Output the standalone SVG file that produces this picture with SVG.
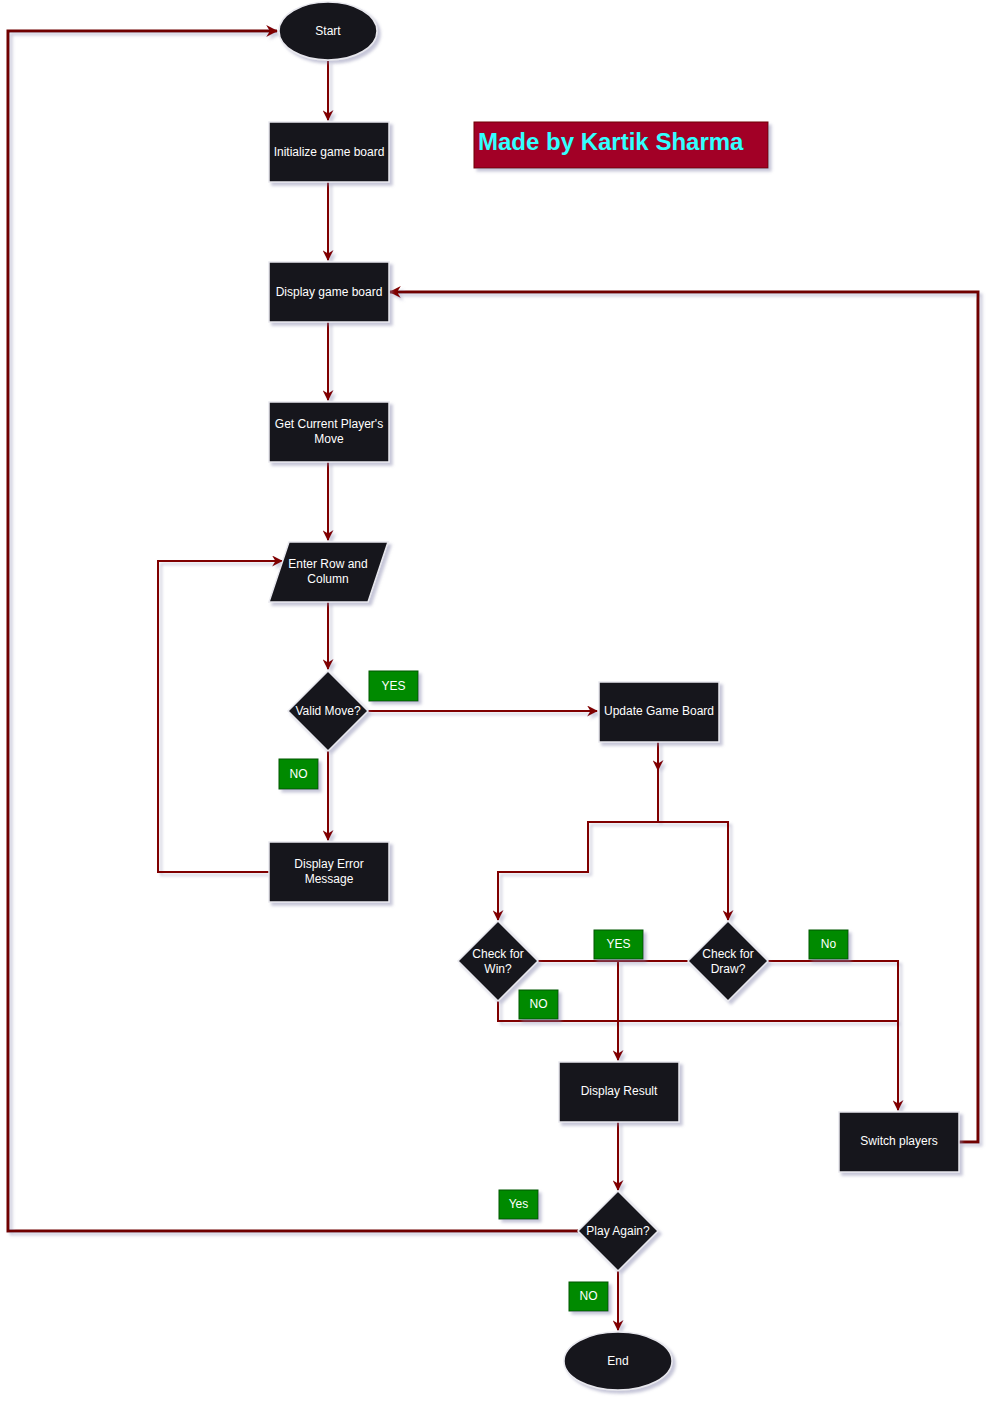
<svg xmlns="http://www.w3.org/2000/svg" width="999" height="1403" viewBox="0 0 999 1403">
<defs>
<filter id="sh" x="-20%" y="-20%" width="150%" height="150%">
<feGaussianBlur in="SourceAlpha" stdDeviation="1.5"/>
<feOffset dx="3" dy="3" result="b"/>
<feFlood flood-color="#8080a8" flood-opacity="0.45"/>
<feComposite in2="b" operator="in"/>
<feMerge><feMergeNode/><feMergeNode in="SourceGraphic"/></feMerge>
</filter>
<filter id="shc" filterUnits="userSpaceOnUse" x="0" y="0" width="999" height="1403">
<feGaussianBlur in="SourceAlpha" stdDeviation="1.5"/>
<feOffset dx="3" dy="3" result="b"/>
<feFlood flood-color="#8080a8" flood-opacity="0.4"/>
<feComposite in2="b" operator="in"/>
<feMerge><feMergeNode/><feMergeNode in="SourceGraphic"/></feMerge>
</filter>
<marker id="ar2" viewBox="0 0 10 10" refX="9" refY="5" markerWidth="5.5" markerHeight="5.5" orient="auto">
<path d="M0,0 L10,5 L0,10 L3,5 Z" fill="#800000"/>
</marker>
<marker id="ar3" viewBox="0 0 10 10" refX="9" refY="5" markerWidth="4" markerHeight="4" orient="auto">
<path d="M0,0 L10,5 L0,10 L3,5 Z" fill="#800000"/>
</marker>
</defs>
<style>
.n{fill:#18171e;stroke:#e8e8ee;stroke-width:1.5;filter:url(#sh)}
.t{fill:#ffffff;font-family:"Liberation Sans",Arial,sans-serif;font-size:12px;text-anchor:middle;dominant-baseline:central}
.g{fill:#008a00;stroke:#005700;stroke-width:1;filter:url(#sh)}
.c{fill:none;stroke:#800000;stroke-width:2}
.c2{fill:none;stroke:#6f0000;stroke-width:3}
.ca{marker-end:url(#ar2)}
.cb{marker-end:url(#ar3)}
</style>
<rect width="999" height="1403" fill="#ffffff"/>
<g id="connectors" filter="url(#shc)">
<path class="c ca" d="M328,61 L328,120"/>
<path class="c ca" d="M328,182 L328,260"/>
<path class="c ca" d="M328,322 L328,400"/>
<path class="c ca" d="M328,462 L328,540"/>
<path class="c ca" d="M328,602 L328,669"/>
<path class="c ca" d="M368,711 L597,711"/>
<path class="c ca" d="M328,751 L328,840"/>
<path class="c ca" d="M269,872 L158,872 L158,561 L282,561"/>
<path class="c ca" d="M658,742 L658,770"/>
<path class="c" d="M658,770 L658,822"/>
<path class="c ca" d="M658,822 L588,822 L588,872 L498,872 L498,920"/>
<path class="c ca" d="M658,822 L728,822 L728,920"/>
<path class="c ca" d="M538,961 L618,961 L618,1060"/>
<path class="c" d="M688,961 L618,961"/>
<path class="c ca" d="M768,961 L898,961 L898,1110"/>
<path class="c" d="M498,1001 L498,1021 L898,1021"/>
<path class="c ca" d="M618,1122 L618,1190"/>
<path class="c ca" d="M618,1271 L618,1330"/>
<path class="c2 cb" d="M578,1231 L8,1231 L8,31 L277,31"/>
<path class="c2 cb" d="M959,1142 L978,1142 L978,292 L390,292"/>
</g>
<g id="title">
<rect x="474" y="122" width="294" height="46" fill="#a20025" stroke="#6f0000" stroke-width="1" filter="url(#sh)"/>
<text x="478" y="141" fill="#33ffff" font-family="'Liberation Sans',Arial,sans-serif" font-size="24" font-weight="bold" dominant-baseline="central">Made by Kartik Sharma</text>
</g>
<g id="start"><ellipse class="n" cx="328" cy="31" rx="49" ry="29"/><text class="t" x="328" y="31">Start</text></g>
<g id="init"><rect class="n" x="269" y="122" width="120" height="60"/><text class="t" x="329" y="152">Initialize game board</text></g>
<g id="display"><rect class="n" x="269" y="262" width="120" height="60"/><text class="t" x="329" y="292">Display game board</text></g>
<g id="getmove"><rect class="n" x="269" y="402" width="120" height="60"/><text class="t" x="329" y="424">Get Current Player's</text><text class="t" x="329" y="439">Move</text></g>
<g id="enter"><polygon class="n" points="289,542 388,542 368,602 269,602"/><text class="t" x="328" y="564">Enter Row and</text><text class="t" x="328" y="579">Column</text></g>
<g id="valid"><polygon class="n" points="328,671 368,711 328,751 288,711"/><text class="t" x="328" y="711">Valid Move?</text></g>
<g id="update"><rect class="n" x="599" y="682" width="120" height="60"/><text class="t" x="659" y="711">Update Game Board</text></g>
<g id="error"><rect class="n" x="269" y="842" width="120" height="60"/><text class="t" x="329" y="864">Display Error</text><text class="t" x="329" y="879">Message</text></g>
<g id="win"><polygon class="n" points="498,921 538,961 498,1001 458,961"/><text class="t" x="498" y="954">Check for</text><text class="t" x="498" y="969">Win?</text></g>
<g id="draw"><polygon class="n" points="728,921 768,961 728,1001 688,961"/><text class="t" x="728" y="954">Check for</text><text class="t" x="728" y="969">Draw?</text></g>
<g id="result"><rect class="n" x="559" y="1062" width="120" height="60"/><text class="t" x="619" y="1091">Display Result</text></g>
<g id="switch"><rect class="n" x="839" y="1112" width="120" height="60"/><text class="t" x="899" y="1141">Switch players</text></g>
<g id="again"><polygon class="n" points="618,1191 658,1231 618,1271 578,1231"/><text class="t" x="618" y="1231">Play Again?</text></g>
<g id="end"><ellipse class="n" cx="618" cy="1361" rx="54" ry="29"/><text class="t" x="618" y="1361">End</text></g>
<g id="labels">
<g id="l-yes1"><rect class="g" x="369" y="671" width="49" height="30"/><text class="t" x="393.5" y="686">YES</text></g>
<g id="l-no1"><rect class="g" x="279" y="759" width="39" height="30"/><text class="t" x="298.5" y="774">NO</text></g>
<g id="l-yes2"><rect class="g" x="594" y="930" width="49" height="29"/><text class="t" x="618.5" y="944">YES</text></g>
<g id="l-no2"><rect class="g" x="809" y="930" width="39" height="29"/><text class="t" x="828.5" y="944">No</text></g>
<g id="l-no3"><rect class="g" x="519" y="990" width="39" height="29"/><text class="t" x="538.5" y="1004">NO</text></g>
<g id="l-yes3"><rect class="g" x="499" y="1190" width="39" height="29"/><text class="t" x="518.5" y="1204">Yes</text></g>
<g id="l-no4"><rect class="g" x="569" y="1282" width="39" height="29"/><text class="t" x="588.5" y="1296">NO</text></g>
</g>
</svg>
